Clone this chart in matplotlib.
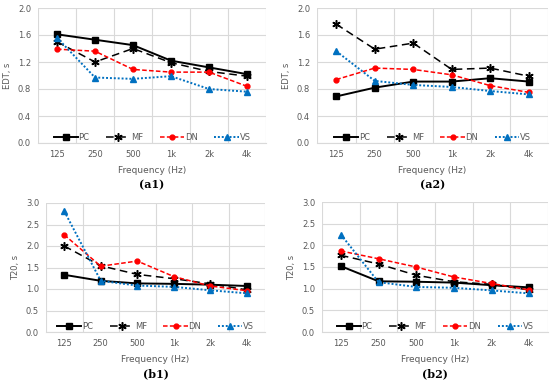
import numpy as np
import matplotlib.pyplot as plt

freqs = ["125", "250", "500", "1k", "2k", "4k"]
series = ["PC", "MF", "DN", "VS"]

# EDT, room 1
a1_pc = [1.61, 1.53, 1.45, 1.22, 1.12, 1.02]
a1_mf = [1.50, 1.20, 1.40, 1.19, 1.06, 0.99]
a1_dn = [1.39, 1.36, 1.09, 1.05, 1.05, 0.84]
a1_vs = [1.56, 0.97, 0.95, 0.99, 0.80, 0.76]

# EDT, room 2
a2_pc = [0.69, 0.82, 0.91, 0.91, 0.96, 0.91]
a2_mf = [1.76, 1.39, 1.48, 1.09, 1.11, 0.99]
a2_dn = [0.94, 1.11, 1.09, 1.01, 0.85, 0.75]
a2_vs = [1.36, 0.92, 0.86, 0.83, 0.77, 0.72]

# T20, room 1
b1_pc = [1.33, 1.19, 1.13, 1.12, 1.10, 1.07]
b1_mf = [2.00, 1.54, 1.34, 1.24, 1.12, 0.98]
b1_dn = [2.26, 1.53, 1.65, 1.29, 1.07, 0.96]
b1_vs = [2.81, 1.19, 1.08, 1.05, 0.97, 0.90]

# T20, room 2
b2_pc = [1.52, 1.17, 1.16, 1.14, 1.08, 1.03]
b2_mf = [1.77, 1.57, 1.31, 1.16, 1.10, 0.97]
b2_dn = [1.87, 1.69, 1.50, 1.27, 1.12, 0.97]
b2_vs = [2.25, 1.15, 1.04, 1.02, 0.96, 0.89]

styles = {
    "PC": dict(color="black", linestyle="-", marker="s", markersize=4, linewidth=1.4),
    "MF": dict(color="black", linestyle=(0, (5, 3)), marker=(6, 2, 0), markersize=6,
               linewidth=1.1, markeredgewidth=1.1),
    "DN": dict(color="#FF0000", linestyle=(0, (3, 1.5)), marker="o", markersize=3.5, linewidth=1.1),
    "VS": dict(color="#0070C0", linestyle=(0, (1, 1)), marker="^", markersize=4, linewidth=1.4),
}

gray = "#595959"
grid = "#D9D9D9"


def panel(rect, data, ylabel, yticks, tag):
    ax = fig.add_axes(rect)
    x = np.arange(len(freqs))
    for name, vals in zip(series, data):
        ax.plot(x, vals, label=name, **styles[name])
    ax.set_xlim(-0.5, len(freqs) - 0.5)
    ax.set_ylim(yticks[0], yticks[-1])
    ax.set_yticks(yticks)
    ax.set_yticklabels([f"{t:.1f}" for t in yticks])
    ax.set_xticks(x)
    ax.set_xticklabels(freqs)
    ax.set_xticks(np.arange(-0.5, len(freqs)), minor=True)
    ax.grid(True, axis="y", color=grid, linewidth=0.8)
    ax.grid(True, axis="x", which="minor", color=grid, linewidth=0.8)
    ax.tick_params(which="both", length=0, labelsize=6, colors=gray, pad=5)
    ax.set_axisbelow(True)
    for s in ["top", "right", "left"]:
        ax.spines[s].set_visible(False)
    ax.spines["bottom"].set_color(grid)
    ax.set_ylabel(ylabel, fontsize=6, color=gray, labelpad=4)
    ax.set_xlabel("Frequency (Hz)", fontsize=6.5, color=gray, labelpad=5)
    ax.legend(loc="lower center", bbox_to_anchor=(0.5, -0.05), ncol=4, frameon=False,
              fontsize=6, handlelength=2.9, columnspacing=2.0, handletextpad=0.1,
              labelcolor=gray)
    cx = rect[0] + rect[2] / 2
    fig.text(cx, rect[1] - 0.107, tag, ha="center", va="center", fontsize=8,
             fontweight="bold", family="DejaVu Serif")
    return ax


fig = plt.figure(figsize=(5.5, 3.86), dpi=100)

ed_ticks = [0.0, 0.4, 0.8, 1.2, 1.6, 2.0]
t20_ticks = [0.0, 0.5, 1.0, 1.5, 2.0, 2.5, 3.0]

panel([38 / 550, 1 - 143 / 386, 228 / 550, 135 / 386],
      [a1_pc, a1_mf, a1_dn, a1_vs], "EDT, s", ed_ticks, "(a1)")
panel([317 / 550, 1 - 143 / 386, 231 / 550, 135 / 386],
      [a2_pc, a2_mf, a2_dn, a2_vs], "EDT, s", ed_ticks, "(a2)")
panel([46 / 550, 1 - 332 / 386, 219 / 550, 129 / 386],
      [b1_pc, b1_mf, b1_dn, b1_vs], "T20, s", t20_ticks, "(b1)")
panel([322 / 550, 1 - 332 / 386, 226 / 550, 130 / 386],
      [b2_pc, b2_mf, b2_dn, b2_vs], "T20, s", t20_ticks, "(b2)")

fig.savefig("out.png", dpi=100)
